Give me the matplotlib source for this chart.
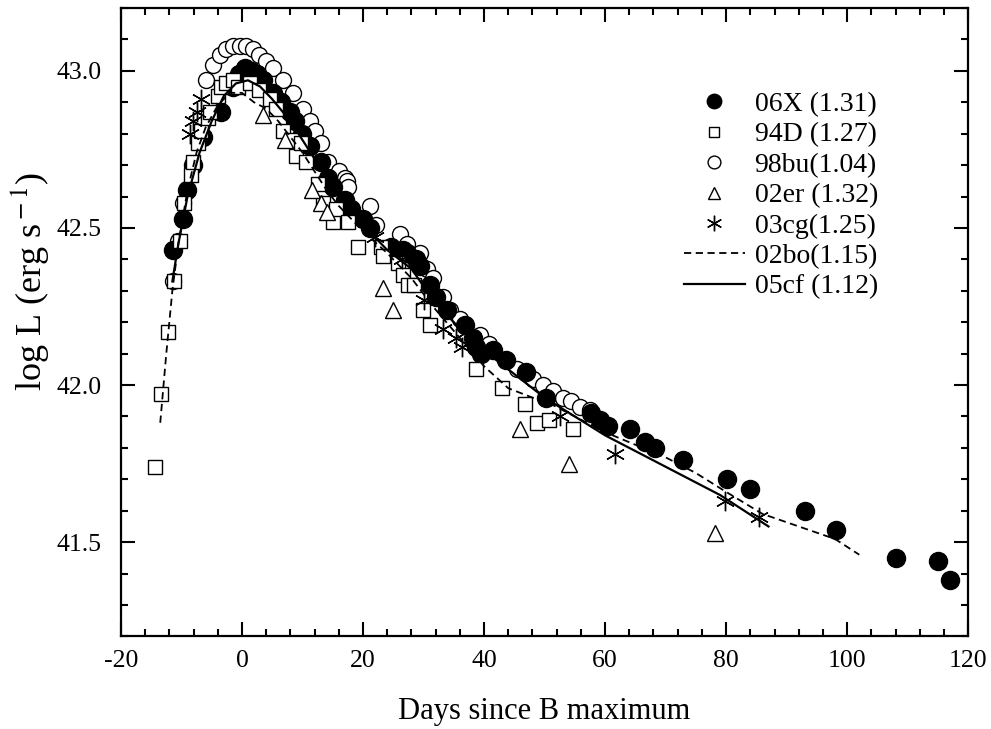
import matplotlib
matplotlib.use("Agg")
import matplotlib.pyplot as plt
from matplotlib.ticker import MultipleLocator, FormatStrFormatter

# SN 2006X (filled circles)
x06X = [-11.4, -9.8, -9.0, -8.1, -6.4, -3.5, -1.5, -0.5, 0.5, 1.5, 2.5, 3.5,
        5.1, 6.5, 7.9, 8.7, 10.0, 11.2, 13.1, 14.2, 15.0, 17.0, 18.0, 20.0,
        21.1, 24.7, 26.6, 27.2, 28.8, 29.5, 31.0, 32.1, 33.8, 36.8, 38.2,
        38.7, 39.5, 41.5, 43.7, 47.0, 50.3, 57.7, 59.1, 60.5, 64.1, 66.6,
        68.2, 72.9, 80.1, 83.9, 93.1, 98.1, 108.0, 115.0, 117.0]
y06X = [42.43, 42.53, 42.62, 42.70, 42.79, 42.87, 42.95, 42.99, 43.01, 43.00,
        42.99, 42.97, 42.93, 42.90, 42.87, 42.84, 42.80, 42.76, 42.71, 42.66,
        42.63, 42.59, 42.56, 42.53, 42.50, 42.44, 42.43, 42.42, 42.40, 42.38,
        42.32, 42.28, 42.24, 42.19, 42.15, 42.12, 42.10, 42.11, 42.08, 42.04,
        41.96, 41.91, 41.89, 41.87, 41.86, 41.82, 41.80, 41.76, 41.70, 41.67,
        41.60, 41.54, 41.45, 41.44, 41.38]

# SN 1994D (open squares)
x94D = [-14.3, -13.3, -12.3, -11.3, -10.3, -9.5, -8.4, -8.1, -7.3, -6.7, -5.6,
        -5.3, -4.0, -3.4, -2.6, -1.5, -0.7, 1.3, 2.9, 4.6, 5.7, 6.8, 8.4, 9.0,
        9.8, 10.6, 12.6, 13.4, 15.0, 15.6, 17.5, 19.1, 23.0, 23.3, 25.8, 26.6,
        27.4, 28.5, 29.9, 31.0, 38.7, 42.9, 46.7, 48.7, 50.7, 54.7]
y94D = [41.74, 41.97, 42.17, 42.33, 42.46, 42.58, 42.67, 42.71, 42.77, 42.81,
        42.85, 42.87, 42.92, 42.95, 42.96, 42.97, 42.95, 42.96, 42.94, 42.91,
        42.88, 42.81, 42.78, 42.73, 42.77, 42.71, 42.64, 42.58, 42.52, 42.56,
        42.52, 42.44, 42.44, 42.41, 42.39, 42.35, 42.32, 42.32, 42.24, 42.19,
        42.05, 41.99, 41.94, 41.88, 41.89, 41.86]

# SN 1998bu (open circles)
x98bu = [-11.4, -10.6, -9.7, -6.0, -4.8, -3.7, -2.6, -1.5, -0.4, 0.7, 1.8, 2.9,
         4.0, 5.1, 6.8, 8.4, 10.1, 11.2, 12.0, 13.1, 14.2, 16.1, 17.0, 17.3,
         17.5, 21.1, 22.2, 26.1, 27.2, 29.4, 30.5, 31.6, 33.2, 34.3, 36.0,
         39.3, 40.9, 45.4, 48.1, 49.8, 51.4, 53.1, 54.4, 55.8, 57.5]
y98bu = [42.33, 42.46, 42.58, 42.97, 43.02, 43.05, 43.07, 43.08, 43.08, 43.08,
         43.07, 43.05, 43.03, 43.01, 42.97, 42.93, 42.88, 42.84, 42.81, 42.77,
         42.71, 42.68, 42.66, 42.65, 42.63, 42.57, 42.51, 42.48, 42.45, 42.42,
         42.37, 42.34, 42.28, 42.24, 42.21, 42.16, 42.13, 42.05, 42.02, 42.00,
         41.98, 41.96, 41.95, 41.93, 41.92]

# SN 2002er (open triangles)
x02er = [3.5, 7.1, 11.5, 13.0, 14.0, 23.3, 25.0, 46.0, 54.0, 78.1]
y02er = [42.86, 42.78, 42.62, 42.58, 42.55, 42.31, 42.24, 41.86, 41.75, 41.53]

# SN 2003cg (asterisks)
x03cg = [-8.6, -8.1, -7.5, -6.7, 22.0, 26.5, 30.0, 33.2, 35.4, 36.3, 52.5,
         61.6, 79.8, 85.5]
y03cg = [42.80, 42.84, 42.87, 42.91, 42.47, 42.40, 42.27, 42.18, 42.15, 42.12,
         41.90, 41.78, 41.63, 41.58]

# SN 2002bo (dashed line)
x02bo = [-13.5, -12.5, -11.5, -10.5, -9.0, -7.5, -6.0, -4.0, -2.0, 0.0, 2.0,
         4.0, 6.0, 8.0, 10.0, 12.0, 14.0, 16.0, 20.0, 24.0, 28.0, 32.0, 36.0,
         40.0, 44.0, 48.0, 50.0, 55.0, 60.0, 65.0, 70.0, 75.0, 80.0, 86.0,
         92.0, 98.0, 102.0]
y02bo = [41.88, 42.10, 42.30, 42.45, 42.62, 42.74, 42.82, 42.89, 42.93, 42.93,
         42.90, 42.88, 42.84, 42.79, 42.74, 42.68, 42.62, 42.57, 42.49, 42.42,
         42.34, 42.24, 42.15, 42.06, 41.99, 41.96, 41.95, 41.90, 41.85, 41.81,
         41.77, 41.72, 41.66, 41.59, 41.55, 41.51, 41.46]

# SN 2005cf (solid line)
x05cf = [-11.5, -10.5, -9.0, -7.0, -5.0, -3.0, -1.0, 1.0, 3.0, 5.0, 8.0, 10.0,
         13.0, 16.0, 20.0, 24.0, 28.0, 32.0, 36.0, 40.0, 44.0, 50.0, 55.0,
         60.0, 65.0, 70.0, 75.0, 79.0, 83.0, 87.0]
y05cf = [42.33, 42.45, 42.60, 42.74, 42.84, 42.92, 42.96, 42.97, 42.95, 42.91,
         42.84, 42.78, 42.69, 42.61, 42.51, 42.43, 42.37, 42.26, 42.18, 42.11,
         42.05, 41.96, 41.90, 41.84, 41.79, 41.74, 41.69, 41.65, 41.60, 41.55]

plt.rcParams.update({"font.family": "Liberation Serif",
                     "mathtext.fontset": "stix",
                     "axes.unicode_minus": False})

fig = plt.figure(figsize=(9.91, 7.29), dpi=100)
ax = fig.add_axes([0.122, 0.127, 0.855, 0.862])

ax.plot(x98bu, y98bu, "o", ms=11.5, mfc="white", mec="black", mew=1.0,
        ls="none", label="98bu(1.04)", zorder=2)
ax.plot(x06X, y06X, "o", ms=13, mfc="black", mec="black",
        ls="none", label="06X (1.31)", zorder=3)
ax.plot(x94D, y94D, "s", ms=9.5, mfc="white", mec="black", mew=1.0,
        ls="none", label="94D (1.27)", zorder=4)
ax.plot(x02er, y02er, "^", ms=11.5, mfc="white", mec="black", mew=1.0,
        ls="none", label="02er (1.32)", zorder=4)
ax.plot(x03cg, y03cg, marker=(6, 2, 0), ms=14, color="black", mew=1.0,
        ls="none", label="03cg(1.25)", zorder=5)
ax.plot(x02bo, y02bo, "--", color="black", lw=1.3, dashes=(4, 2.5),
        label="02bo(1.15)", zorder=6)
ax.plot(x05cf, y05cf, "-", color="black", lw=1.6, label="05cf (1.12)",
        zorder=6)

ax.set_xlim(-20, 120)
ax.set_ylim(41.2, 43.2)
ax.xaxis.set_major_locator(MultipleLocator(20))
ax.xaxis.set_minor_locator(MultipleLocator(4))
ax.yaxis.set_major_locator(MultipleLocator(0.5))
ax.yaxis.set_minor_locator(MultipleLocator(0.1))
ax.yaxis.set_major_formatter(FormatStrFormatter("%.1f"))
ax.tick_params(which="both", direction="in", top=True, right=True,
               width=1.5, labelsize=18.5)
ax.tick_params(axis="x", pad=10)
ax.tick_params(axis="y", pad=14)
ax.tick_params(which="major", length=10)
ax.tick_params(which="minor", length=5)
for s in ax.spines.values():
    s.set_linewidth(1.6)

ax.set_xlabel("Days since B maximum", fontsize=22, labelpad=18)
ax.set_ylabel(r"log L (erg s$^{\rm -1}$)", fontsize=26)
ax.yaxis.set_label_coords(-0.082, 0.565)

handles, labels = ax.get_legend_handles_labels()
order = [1, 2, 0, 3, 4, 5, 6]
ax.legend([handles[i] for i in order], [labels[i] for i in order],
          loc="upper right", bbox_to_anchor=(0.923, 0.907), frameon=False,
          fontsize=20, markerscale=0.8, handlelength=2.2, labelspacing=0.18,
          handletextpad=0.35)

fig.savefig("out.png", dpi=100)
